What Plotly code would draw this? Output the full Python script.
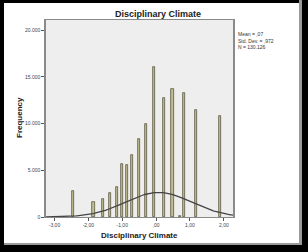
import numpy as np
import plotly.graph_objects as go

# ---- data ----
bin_centers = [-2.45, -1.85, -1.57, -1.37, -1.16, -1.00, -0.86, -0.71, -0.51, -0.30,
               -0.06, 0.24, 0.48, 0.71, 0.83, 1.17, 1.88]
frequencies = [2770, 1600, 1920, 2600, 3240, 5660, 5590, 6620, 8330, 9960,
               16080, 12780, 13670, 120, 13240, 11460, 10750]
x_tick_vals = [-3, -2, -1, 0, 1, 2]
x_tick_text = ["-3,00", "-2,00", "-1,00", ",00", "1,00", "2,00"]
y_tick_vals = [0, 5000, 10000, 15000, 20000]
y_tick_text = ["0", "5.000", "10.000", "15.000", "20.000"]
stat_mean = 0.07
stat_sd = 0.972
stat_n = 130126
bin_width = 0.0492
stats_text = "Mean = ,07<br>Std. Dev. = ,972<br>N = 130.126"

# normal curve derived from the stated statistics
xc = np.linspace(-3.25, 2.27, 200)
yc = stat_n * bin_width / (stat_sd * np.sqrt(2 * np.pi)) * np.exp(-0.5 * ((xc - stat_mean) / stat_sd) ** 2)

fig = go.Figure()
fig.add_trace(go.Bar(x=bin_centers, y=frequencies, width=0.068,
                     marker=dict(color="#c2bd93", line=dict(color="#4a4830", width=0.7)),
                     showlegend=False))
fig.add_trace(go.Scatter(x=xc, y=yc, mode="lines",
                         line=dict(color="#444444", width=1.3), showlegend=False))

W, H = 308, 252
L, R, T, B = 46, 233, 20, 217
pw, ph = R - L, B - T

def px(x):
    return (x - L) / pw

def py(y):
    return (B - y) / ph

shapes = []
def rect(x0, y0, x1, y1, color):
    shapes.append(dict(type="rect", xref="paper", yref="paper",
                       x0=px(x0), x1=px(x1), y0=py(y1), y1=py(y0),
                       fillcolor=color, line=dict(width=0), layer="above"))

rect(0, 0, W, 3, "#000000")
rect(0, 0, 4, H, "#000000")
rect(299, 0, 302, 245, "#9a9a9a")
rect(302, 0, W, H, "#000000")
rect(4, 243, 302, 245, "#9a9a9a")
rect(0, 245, W, H, "#000000")

annotations = [
    dict(text="<b>Disciplinary Climate</b>", xref="paper", yref="paper",
         x=px(158), y=py(14), showarrow=False, xanchor="center", yanchor="middle",
         font=dict(family="Arial", size=9, color="#222222")),
    dict(text="<b>Frequency</b>", xref="paper", yref="paper", textangle=-90,
         x=px(19), y=py(118), showarrow=False, xanchor="center", yanchor="middle",
         font=dict(family="Arial", size=8, color="#222222")),
    dict(text="<b>Disciplinary Climate</b>", xref="paper", yref="paper",
         x=px(139), y=py(235), showarrow=False, xanchor="center", yanchor="middle",
         font=dict(family="Arial", size=8, color="#222222")),
    dict(text=stats_text, xref="paper", yref="paper", align="left",
         x=px(236), y=py(29), showarrow=False, xanchor="left", yanchor="top",
         font=dict(family="Arial", size=5, color="#333333")),
]

fig.update_layout(
    width=W, height=H,
    margin=dict(l=L, r=W - R, t=T, b=H - B),
    paper_bgcolor="white", plot_bgcolor="#eeeeee",
    bargap=0, shapes=shapes, annotations=annotations,
    xaxis=dict(range=[-3.25, 2.27], tickvals=x_tick_vals, ticktext=x_tick_text,
               showgrid=False, zeroline=False, ticks="outside", ticklen=3,
               tickcolor="#555555", showline=True, linecolor="#8a8a8a", linewidth=1,
               mirror=True, tickfont=dict(family="Arial", size=5, color="#444444")),
    yaxis=dict(range=[0, 21070], tickvals=y_tick_vals, ticktext=y_tick_text,
               showgrid=False, zeroline=False, ticks="outside", ticklen=3,
               tickcolor="#555555", showline=True, linecolor="#8a8a8a", linewidth=1.5,
               mirror=True, tickfont=dict(family="Arial", size=5, color="#444444")),
)

fig.write_html("out.html", config={"displayModeBar": False},
               post_script="document.body.style.margin='0';document.body.style.overflow='hidden';")
